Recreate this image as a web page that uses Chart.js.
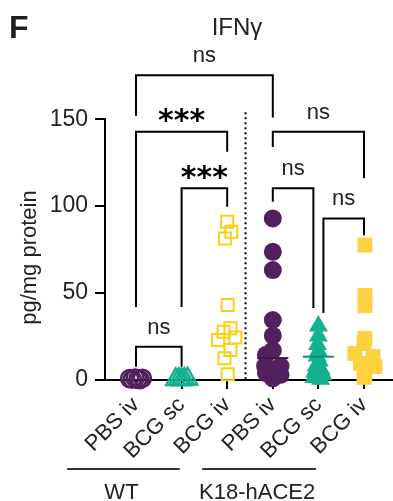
<!DOCTYPE html>
<html>
<head>
<meta charset="utf-8">
<script src="https://cdn.jsdelivr.net/npm/chart.js@4.4.1/dist/chart.umd.min.js"></script>
<style>
  html, body { margin: 0; padding: 0; background: #fff; }
  #wrap { position: relative; width: 393px; height: 501px; }
</style>
</head>
<body>
<div id="wrap"><canvas id="chart" width="393" height="501"></canvas></div>
<script>
// --- datos ---
const categories = ['PBS iv', 'BCG sc', 'BCG iv', 'PBS iv', 'BCG sc', 'BCG iv'];
const yTicks = [0, 50, 100, 150];
const yTitle = 'pg/mg protein';
const groupNames = ['WT', 'K18-hACE2'];
const groupSpans = [[-1.51, 0.96], [1.45, 3.95]]; // en unidades de categoria

// valores (pg/mg protein) + desplazamiento horizontal de cada punto
const wtPbsIv = [0.8, 0.4, 1.2, 0.6, 0.2, 1.0];
const wtPbsIvJitter = [-0.14, -0.08, -0.02, 0.04, 0.09, 0.14];
const wtBcgSc = [0.3, 0.5, 0.2, 0.4, 0.6];
const wtBcgScJitter = [-0.13, -0.06, 0, 0.06, 0.13];
const wtBcgIv = [91, 85.2, 81.4, 43.1, 29.7, 27.8, 24.5, 23, 17.2, 12.5, 3.3];
const wtBcgIvJitter = [0, 0.09, -0.05, 0.01, 0.07, -0.08, 0.18, -0.2, 0.07, -0.06, 0.01];
const k18PbsIv = [92.9, 73.7, 63.2, 34.5, 25.5, 17, 14.5, 8, 8, 4, 3, 1, 6];
const k18PbsIvJitter = [0, 0, 0, 0, 0, 0, -0.15, -0.17, 0.17, -0.15, 0.17, 0, 0];
const k18BcgSc = [31, 25.3, 20.4, 16.7, 13.8, 10.9, 8, 6, 4.6, 3, 1.5, 0.5];
const k18BcgScJitter = [0, 0, -0.02, 0, -0.03, 0.02, -0.05, 0.06, -0.08, 0.1, -0.1, 0.05];
const k18BcgIv = [77.6, 48.6, 42.8, 24, 21, 15.3, 13.4, 9.6, 7.7, 2.9, 1.5];
const k18BcgIvJitter = [0.02, 0.02, 0.02, 0.02, 0, -0.2, 0.2, -0.08, 0.24, 0.02, 0];

const medianGroups = [3, 4];
const medianValues = [12.6, 13.4];

// comparaciones: grupo desde/hasta, altura de la barra, fin de cada pata, texto
const brackets = [
    { from: 0, to: 3, y: 175.3, left: 152, right: 151, label: 'ns' },
    { from: 0, to: 2, y: 142.7, left: 42, right: 131.2, label: '***' },
    { from: 1, to: 2, y: 110.2, left: 42, right: 99.6, label: '***' },
    { from: 0, to: 1, y: 19.1, left: 7.6, right: 7.6, label: 'ns' },
    { from: 3, to: 5, y: 142.7, left: 134, right: 116, label: 'ns' },
    { from: 3, to: 3.89, y: 110.2, left: 102.5, right: 41.4, label: 'ns' },
    { from: 4.11, to: 5, y: 92.9, left: 38.5, right: 83.3, label: 'ns' }
];
const dividerX = 2.4;
const dividerTop = 154;

const PURPLE = '#52205f';
const GREEN = '#14b08f';
const YELLOW = '#fdd13f';
const YELLOW_OPEN = '#f9cf1a';
const FONT = "'Liberation Sans', Arial, Helvetica, sans-serif";
const TEXT = '#222';

function toPoints(values, jitter, group) {
    return values.map((v, i) => ({ x: group + jitter[i], y: v }));
}

const extrasPlugin = {
    id: 'extras',
    afterDraw(chart) {
        const ctx = chart.ctx;
        const xs = chart.scales.x;
        const ys = chart.scales.y;
        const area = chart.chartArea;
        ctx.save();
        ctx.strokeStyle = '#000';
        ctx.lineWidth = 2;

        // eje y solo de 0 a 150
        ctx.beginPath();
        ctx.moveTo(area.left, ys.getPixelForValue(0) + 1);
        ctx.lineTo(area.left, ys.getPixelForValue(150) - 1);
        ctx.stroke();

        // titulo del eje y, centrado sobre 0-150
        ctx.save();
        ctx.translate(30, (ys.getPixelForValue(0) + ys.getPixelForValue(150)) / 2 + 8);
        ctx.rotate(-Math.PI / 2);
        ctx.font = '22px ' + FONT;
        ctx.fillStyle = TEXT;
        ctx.textAlign = 'center';
        ctx.textBaseline = 'middle';
        ctx.fillText(yTitle, 0, 0);
        ctx.restore();

        // separador punteado WT / K18
        ctx.setLineDash([2, 3]);
        ctx.beginPath();
        const dx = Math.round(xs.getPixelForValue(dividerX)) + 0.5;
        ctx.moveTo(dx, ys.getPixelForValue(dividerTop));
        ctx.lineTo(dx, ys.getPixelForValue(0));
        ctx.stroke();
        ctx.setLineDash([]);

        // comparaciones
        brackets.forEach(b => {
            const x1 = xs.getPixelForValue(b.from);
            const x2 = xs.getPixelForValue(b.to);
            const yb = ys.getPixelForValue(b.y);
            ctx.beginPath();
            ctx.moveTo(x1, ys.getPixelForValue(b.left));
            ctx.lineTo(x1, yb);
            ctx.lineTo(x2, yb);
            ctx.lineTo(x2, ys.getPixelForValue(b.right));
            ctx.stroke();

            const stars = b.label === '***';
            ctx.font = stars ? "bold 30px 'DejaVu Sans', sans-serif" : '22px ' + FONT;
            ctx.fillStyle = stars ? '#000' : TEXT;
            ctx.textAlign = 'center';
            ctx.textBaseline = 'alphabetic';
            const m = ctx.measureText(b.label);
            const cy = yb - (stars ? 16 : 19);
            const base = cy + (m.actualBoundingBoxAscent - m.actualBoundingBoxDescent) / 2;
            ctx.fillText(b.label, (x1 + x2) / 2, base);
        });

        // lineas de grupo y nombres
        ctx.strokeStyle = '#333';
        ctx.fillStyle = TEXT;
        ctx.font = '22px ' + FONT;
        ctx.textAlign = 'center';
        groupNames.forEach((name, i) => {
            const a = xs.getPixelForValue(groupSpans[i][0]);
            const c = xs.getPixelForValue(groupSpans[i][1]);
            ctx.beginPath();
            ctx.moveTo(a, 469);
            ctx.lineTo(c, 469);
            ctx.stroke();
            ctx.fillText(name, (a + c) / 2 - 2, 499);
        });

        // titulo y letra del panel
        ctx.font = '24px ' + FONT;
        ctx.fillText('IFNγ', 237, 35);
        ctx.font = 'bold 32px ' + FONT;
        ctx.textAlign = 'left';
        ctx.fillStyle = '#231f20';
        ctx.fillText('F', 9, 38);
        ctx.restore();
    }
};

const medianSets = medianGroups.map((g, i) => ({
    type: 'line',
    data: [{ x: g - 0.34, y: medianValues[i] }, { x: g + 0.34, y: medianValues[i] }],
    borderColor: g === 3 ? '#3d1747' : '#0e8d72',
    borderWidth: 2,
    pointRadius: 0,
    showLine: true,
    clip: false
}));

new Chart(document.getElementById('chart'), {
    type: 'scatter',
    data: {
        datasets: [
            ...medianSets,
            { data: toPoints(wtPbsIv, wtPbsIvJitter, 0), pointStyle: 'circle', pointRadius: 8.5, borderWidth: 2.5, borderColor: PURPLE, backgroundColor: 'rgba(0,0,0,0)', clip: false },
            { data: toPoints(wtBcgSc, wtBcgScJitter, 1), pointStyle: 'triangle', pointRadius: 11, borderWidth: 2.5, borderColor: GREEN, backgroundColor: 'rgba(0,0,0,0)', clip: false },
            { data: toPoints(wtBcgIv, wtBcgIvJitter, 2), pointStyle: 'rect', pointRadius: 8.5, borderWidth: 2, borderColor: YELLOW_OPEN, backgroundColor: 'rgba(0,0,0,0)', clip: false },
            { data: toPoints(k18PbsIv, k18PbsIvJitter, 3), pointStyle: 'circle', pointRadius: 9, borderWidth: 0, backgroundColor: PURPLE, clip: false },
            { data: toPoints(k18BcgSc, k18BcgScJitter, 4), pointStyle: 'triangle', pointRadius: 11, borderWidth: 0, backgroundColor: GREEN, clip: false },
            { data: toPoints(k18BcgIv, k18BcgIvJitter, 5), pointStyle: 'rect', pointRadius: 10.5, borderWidth: 0, backgroundColor: YELLOW, clip: false }
        ]
    },
    options: {
        responsive: false,
        devicePixelRatio: 1,
        animation: false,
        events: [],
        layout: { autoPadding: false, padding: { top: 67, left: 0, right: 0, bottom: 0 } },
        plugins: { legend: { display: false }, tooltip: { enabled: false } },
        scales: {
            x: {
                type: 'linear',
                min: -0.68,
                max: 5.636,
                afterBuildTicks: scale => { scale.ticks = categories.map((c, i) => ({ value: i })); },
                afterFit: scale => {
                    scale.height = 121;
                    scale.paddingLeft = 0;
                    scale.paddingRight = 0;
                },
                ticks: {
                    autoSkip: false,
                    minRotation: 45,
                    maxRotation: 45,
                    padding: 3,
                    color: TEXT,
                    font: { family: FONT, size: 22 },
                    callback: (value) => categories[value]
                },
                grid: { drawOnChartArea: false, drawTicks: true, tickLength: 9, color: '#000', lineWidth: 2 },
                border: { display: true, color: '#000', width: 2 }
            },
            y: {
                min: 0,
                max: 180,
                afterBuildTicks: scale => { scale.ticks = yTicks.map(v => ({ value: v })); },
                afterFit: scale => {
                    scale.width = 105;
                    scale.paddingTop = 0;
                    scale.paddingBottom = 0;
                },
                ticks: { padding: 7, color: TEXT, font: { family: FONT, size: 23 } },
                grid: { drawOnChartArea: false, drawTicks: true, tickLength: 10, color: '#000', lineWidth: 2 },
                border: { display: false },
                title: { display: false }
            }
        }
    },
    plugins: [extrasPlugin]
});
</script>
</body>
</html>
